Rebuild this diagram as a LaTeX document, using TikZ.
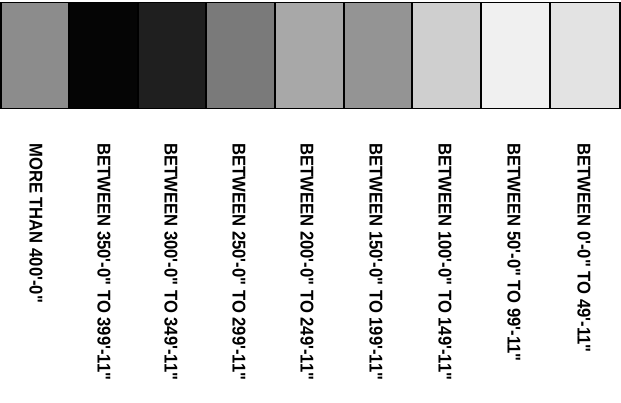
\documentclass[tikz,border=0pt]{standalone}
\usepackage{fontspec}
\newfontfamily\lblfont{Liberation Sans}
% labels are set slightly condensed along the reading direction
\newcommand{\lbltext}[1]{\scalebox{0.9}[1]{#1}}
\begin{document}
\begin{tikzpicture}[x=1pt,y=-1pt,
  swatch/.style={draw=black,line width=1.6pt},
  lbl/.style={rotate=-90,anchor=west,inner sep=0pt,font=\lblfont\bfseries\fontsize{18.5}{20}\selectfont,text=black}]
\useasboundingbox (0,0) rectangle (621,402);
\definecolor{g1}{gray}{0.55}
\definecolor{g2}{gray}{0.02}
\definecolor{g3}{gray}{0.12}
\definecolor{g4}{gray}{0.48}
\definecolor{g5}{gray}{0.66}
\definecolor{g6}{gray}{0.58}
\definecolor{g7}{gray}{0.81}
\definecolor{g8}{gray}{0.94}
\definecolor{g9}{gray}{0.89}
% colour swatches, one per height band
\path[swatch,fill=g1] (0.8,2.5) rectangle (69,108.5);
\path[swatch,fill=g2] (69,2.5) rectangle (138,108.5);
\path[swatch,fill=g3] (138,2.5) rectangle (206,108.5);
\path[swatch,fill=g4] (206,2.5) rectangle (275,108.5);
\path[swatch,fill=g5] (275,2.5) rectangle (344,108.5);
\path[swatch,fill=g6] (344,2.5) rectangle (412,108.5);
\path[swatch,fill=g7] (412,2.5) rectangle (481,108.5);
\path[swatch,fill=g8] (481,2.5) rectangle (550,108.5);
\path[swatch,fill=g9] (550,2.5) rectangle (620.2,108.5);
% legend labels
\node[lbl] (l1) at (36,143) {\lbltext{MORE THAN 400'-0"}};
\node[lbl] (l2) at (104,143) {\lbltext{BETWEEN 350'-0" TO 399'-11"}};
\node[lbl] (l3) at (171,143) {\lbltext{BETWEEN 300'-0" TO 349'-11"}};
\node[lbl] (l4) at (239,143) {\lbltext{BETWEEN 250'-0" TO 299'-11"}};
\node[lbl] (l5) at (307,143) {\lbltext{BETWEEN 200'-0" TO 249'-11"}};
\node[lbl] (l6) at (376,143) {\lbltext{BETWEEN 150'-0" TO 199'-11"}};
\node[lbl] (l7) at (445,143) {\lbltext{BETWEEN 100'-0" TO 149'-11"}};
\node[lbl] (l8) at (514,143) {\lbltext{BETWEEN 50'-0" TO 99'-11"}};
\node[lbl] (l9) at (584,143) {\lbltext{BETWEEN 0'-0" TO 49'-11"}};
\end{tikzpicture}
\end{document}
